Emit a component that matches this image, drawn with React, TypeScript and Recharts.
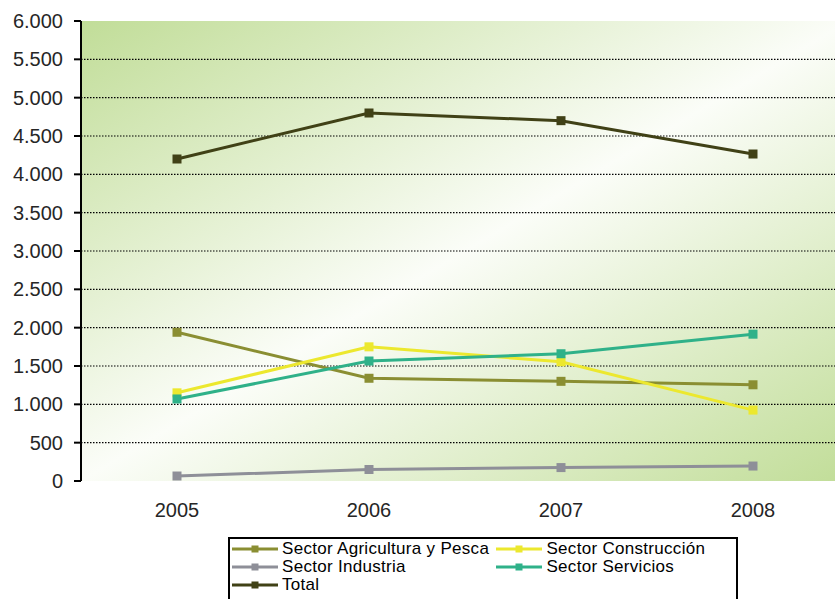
import React from 'react';
import { LineChart, Line, XAxis, YAxis, CartesianGrid } from 'recharts';

const years = ['2005', '2006', '2007', '2008'];
const agricultura = [1940, 1340, 1300, 1255];
const construccion = [1150, 1750, 1555, 925];
const industria = [65, 150, 175, 195];
const servicios = [1070, 1565, 1660, 1915];
const total = [4200, 4800, 4700, 4265];
const yTicks = [0, 500, 1000, 1500, 2000, 2500, 3000, 3500, 4000, 4500, 5000, 5500, 6000];
const gridValues = [500, 1000, 1500, 2000, 2500, 3000, 3500, 4000, 4500, 5000, 5500];
const boundaryTicks = [0, 1, 2, 3, 4];

const series = [
  { key: 'agricultura', name: 'Sector Agricultura y Pesca', color: '#8a8e32', values: agricultura },
  { key: 'construccion', name: 'Sector Construcción', color: '#ece82e', values: construccion },
  { key: 'industria', name: 'Sector Industria', color: '#8e8f98', values: industria },
  { key: 'servicios', name: 'Sector Servicios', color: '#2fb189', values: servicios },
  { key: 'total', name: 'Total', color: '#404116', values: total },
];

const data = years.map((year, i) => {
  const row: Record<string, any> = { year };
  series.forEach((s) => {
    row[s.key] = s.values[i];
  });
  return row;
});

const fmt = (v: number) => String(v).replace(/\B(?=(\d{3})+(?!\d))/g, '.');

const font = '"Liberation Sans", Arial, Helvetica, sans-serif';

const makeDot = (color: string) => (p: any) => {
  if (p.cx == null || p.cy == null) return <g key={p.index} />;
  return <rect key={p.index} x={p.cx - 4.5} y={p.cy - 4.5} width={9} height={9} fill={color} />;
};

const Swatch = ({ color }: { color: string }) => (
  <svg width={46} height={18} style={{ display: 'block', flex: '0 0 auto' }}>
    <line x1={0} y1={9} x2={46} y2={9} stroke={color} strokeWidth={3} />
    <rect x={19.5} y={5.5} width={7} height={7} fill={color} />
  </svg>
);

const legendRows = [
  [series[0], series[1]],
  [series[2], series[3]],
  [series[4]],
];

export default function App() {
  return (
    <div
      style={{
        position: 'absolute',
        left: 0,
        top: 0,
        width: 835,
        height: 599,
        overflow: 'hidden',
        background: '#fff',
        fontFamily: font,
      }}
    >
      <LineChart width={860} height={599} data={data} margin={{ top: 21, right: 11, left: 0, bottom: 78 }}>
        <defs>
          <linearGradient id="plotBg" x1="0" y1="0" x2="1" y2="1">
            <stop offset="0" stopColor="#c1dd98" />
            <stop offset="0.5" stopColor="#fbfdf8" />
            <stop offset="1" stopColor="#c1dd98" />
          </linearGradient>
        </defs>
        <CartesianGrid
          vertical={false}
          horizontalValues={gridValues}
          stroke="#000"
          strokeWidth={1.2}
          strokeDasharray="1.5 1.5"
          fill="url(#plotBg)"
          fillOpacity={1}
        />
        <XAxis
          xAxisId="bounds"
          type="number"
          domain={[0, 4]}
          ticks={boundaryTicks}
          allowDataOverflow
          tick={false}
          tickSize={7}
          height={0}
          axisLine={{ stroke: '#000', strokeWidth: 2 }}
          tickLine={{ stroke: '#000', strokeWidth: 2 }}
        />
        <XAxis
          dataKey="year"
          padding={{ left: 96, right: 96 }}
          axisLine={false}
          tickLine={false}
          tickSize={6}
          tickMargin={16}
          height={40}
          tick={{ fontSize: 20, fill: '#262626', fontFamily: font }}
        />
        <YAxis
          width={81}
          domain={[0, 6000]}
          ticks={yTicks}
          interval={0}
          tickFormatter={fmt}
          tickSize={7}
          tickMargin={11}
          axisLine={{ stroke: '#000', strokeWidth: 2 }}
          tickLine={{ stroke: '#000', strokeWidth: 2 }}
          tick={{ fontSize: 20, fill: '#262626', fontFamily: font }}
        />
        {series.map((s) => (
          <Line
            key={s.key}
            dataKey={s.key}
            name={s.name}
            stroke={s.color}
            strokeWidth={3}
            dot={makeDot(s.color)}
            activeDot={false}
            isAnimationActive={false}
          />
        ))}
      </LineChart>
      <div
        style={{
          position: 'absolute',
          left: 228,
          top: 537,
          width: 506,
          height: 66,
          border: '2px solid #000',
          background: '#fff',
          boxSizing: 'content-box',
          paddingTop: 1,
        }}
      >
        {legendRows.map((row, ri) => (
          <div key={ri} style={{ display: 'flex', height: 18, alignItems: 'center' }}>
            {row.map((s, ci) => (
              <div
                key={s.key}
                style={{
                  display: 'flex',
                  alignItems: 'center',
                  width: ci === 0 ? 267 : 240,
                  paddingLeft: ci === 0 ? 2 : 0,
                  boxSizing: 'border-box',
                }}
              >
                <Swatch color={s.color} />
                <span
                  style={{
                    fontSize: 17,
                    color: '#000',
                    marginLeft: 4,
                    whiteSpace: 'nowrap',
                    lineHeight: '18px',
                    letterSpacing: 0.3,
                  }}
                >
                  {s.name}
                </span>
              </div>
            ))}
          </div>
        ))}
      </div>
    </div>
  );
}
